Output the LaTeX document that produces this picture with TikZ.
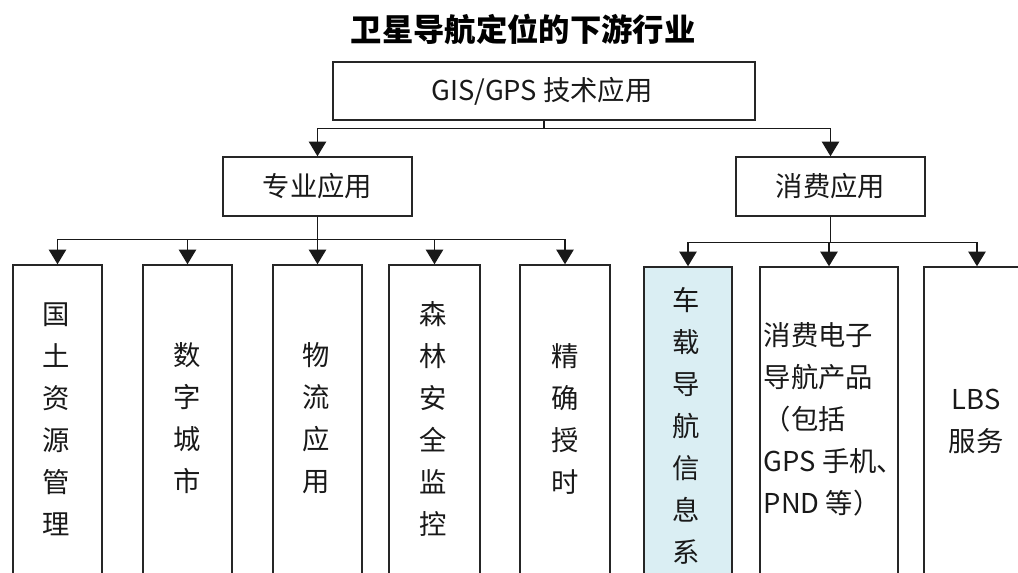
\documentclass[tikz,border=0pt]{standalone}
\usepackage{fontspec}
\setmainfont{Noto Sans CJK SC}
\usetikzlibrary{arrows.meta}
\begin{document}
\begin{tikzpicture}[x=0.75pt,y=-0.75pt,
  box/.style={draw=black!85,line width=1.1pt,inner sep=0pt,fill=white},
  txt/.style={font=\fontsize{20.5}{31.5}\selectfont,align=center,inner sep=0pt,text=black!90},
  arr/.style={draw=black!90,line width=1.1pt,-{Triangle[width=13pt,length=11pt]}}]
\useasboundingbox (0,0) rectangle (1018,572);
\clip (0,0) rectangle (1018,572);
\fill[white] (0,0) rectangle (1018,572);
% title
\node[font=\fontsize{23.5}{28}\selectfont\bfseries,inner sep=0pt] (title) at (523,29) {卫星导航定位的下游行业};
% level 1
\node[box,minimum width=422*0.75pt,minimum height=58*0.75pt] (top) at (544,91) {};
\node[txt] (toptxt) at (542,91) {GIS/GPS 技术应用};
% level 2
\node[box,minimum width=189*0.75pt,minimum height=59*0.75pt] (zy) at (317.5,186.5) {};
\node[txt] (zytxt) at (317.5,186.5) {专业应用};
\node[box,minimum width=189*0.75pt,minimum height=59*0.75pt] (xf) at (830.5,186.5) {};
\node[txt] (xftxt) at (830.5,186.5) {消费应用};
% leaves, left group (top y=265, bottom beyond page)
\node[box,minimum width=89*0.75pt,minimum height=335*0.75pt] (b1) at (57.5,432.5) {};
\node[box,minimum width=89*0.75pt,minimum height=335*0.75pt] (b2) at (187.5,432.5) {};
\node[box,minimum width=89*0.75pt,minimum height=335*0.75pt] (b3) at (317.5,432.5) {};
\node[box,minimum width=91*0.75pt,minimum height=335*0.75pt] (b4) at (434.5,432.5) {};
\node[box,minimum width=90*0.75pt,minimum height=335*0.75pt] (b5) at (565,432.5) {};
% leaves, right group (top y=267)
\node[box,fill={rgb,255:red,218;green,238;blue,243},minimum width=88*0.75pt,minimum height=333*0.75pt] (b6) at (688,433.5) {};
\node[box,minimum width=138*0.75pt,minimum height=333*0.75pt] (b7) at (829,433.5) {};
\node[box,minimum width=106*0.75pt,minimum height=333*0.75pt] (b8) at (977,433.5) {};
% leaf texts
\node[txt] (t1) at (56,419) {国\\土\\资\\源\\管\\理};
\node[txt] (t2) at (187,418.5) {数\\字\\城\\市};
\node[txt] (t3) at (316,418.5) {物\\流\\应\\用};
\node[txt] (t4) at (433,419) {森\\林\\安\\全\\监\\控};
\node[txt] (t5) at (565,419) {精\\确\\授\\时};
\node[txt] (t6) at (686,426) {车\\载\\导\\航\\信\\息\\系};
\node[txt,align=left] (t7) at (834,419) {消费电子\\导航产品\\（包括\\GPS 手机、\\PND 等）};
\node[txt] (t8) at (976,421.5) {LBS\\服务};
% connectors
\draw[arr] (top.south) -- ++(0,8) -| (zy.north);
\draw[arr] (top.south) -- ++(0,8) -| (xf.north);
\foreach \b in {b1,b2,b3,b4,b5}{\draw[arr] (zy.south) -- ++(0,23) -| (\b.north);}
\foreach \b in {b6,b7,b8}{\draw[arr] (xf.south) -- ++(0,26) -| (\b.north);}
\end{tikzpicture}
\end{document}
